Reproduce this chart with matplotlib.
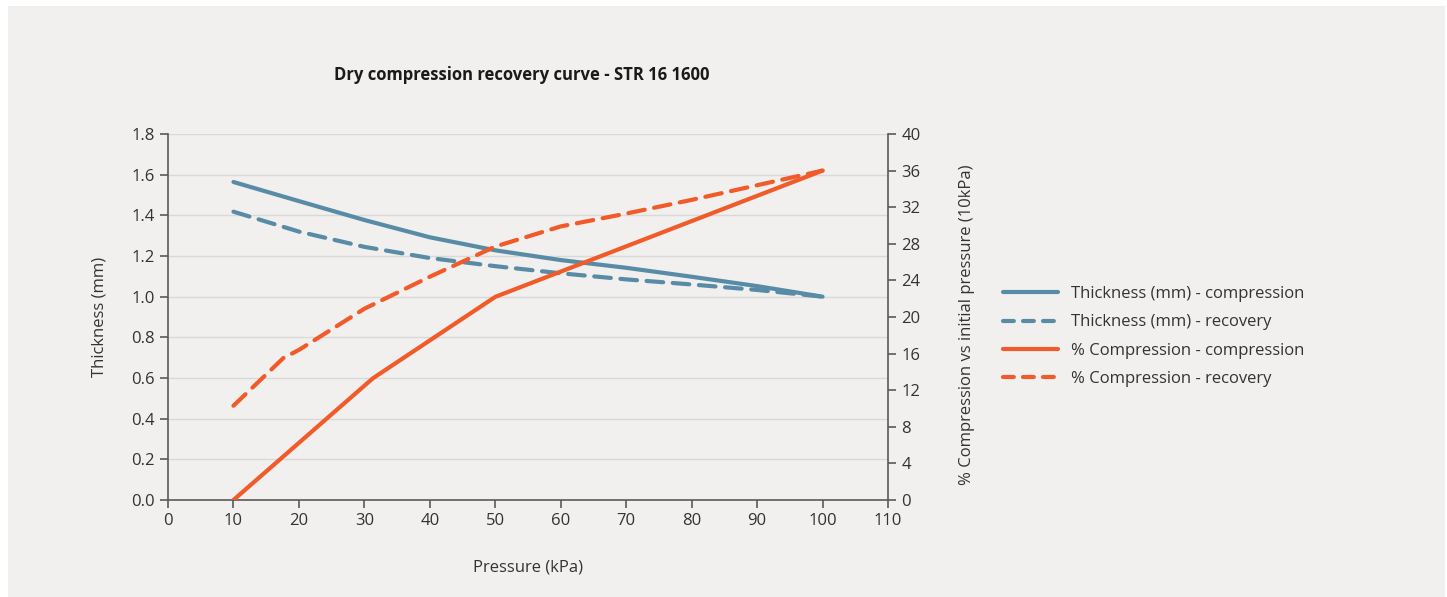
import matplotlib
matplotlib.use("Agg")
import matplotlib.pyplot as plt
from matplotlib.lines import Line2D

plt.rcParams['font.family'] = ['Open Sans', 'DejaVu Sans']

# pressure (kPa) and readings
p_thick = [10, 20, 30, 40, 50, 60, 70, 80, 90, 100]
thick_comp = [1.564, 1.47, 1.377, 1.292, 1.228, 1.18, 1.142, 1.098, 1.052, 1.0]
thick_rec = [1.418, 1.32, 1.245, 1.19, 1.15, 1.115, 1.085, 1.06, 1.033, 1.0]

p_pc_comp = [10, 31.3, 50, 100]
pc_comp = [0.0, 13.3, 22.2, 36.0]
p_pc_rec = [10, 17.6, 20, 30, 40, 50, 60, 70, 80, 90, 100]
pc_rec = [10.3, 15.5, 16.4, 20.9, 24.4, 27.7, 29.9, 31.3, 32.8, 34.4, 36.0]

labels = ["Thickness (mm) - compression", "Thickness (mm) - recovery",
          "% Compression - compression", "% Compression - recovery"]

blue = "#588ca6"
orange = "#f15a29"
bg = "#f1f0ee"
axis_col = "#595959"
txt = "#333333"
fs = 12

fig = plt.figure(figsize=(14.47, 5.97), dpi=100)
fig.patch.set_facecolor("white")
panel = plt.Rectangle((8 / 1447, 0), 1437 / 1447, 591 / 597, transform=fig.transFigure,
                      facecolor=bg, edgecolor="none", zorder=-10)
fig.patches.append(panel)

ax = fig.add_axes([168 / 1447, 1 - 500 / 597, 720 / 1447, 366 / 597])
ax2 = ax.twinx()
for a in (ax, ax2):
    a.set_facecolor("none")
ax.set_zorder(1)
ax2.set_zorder(2)

lw = 3
dash = (4, 2.3)
ax.plot(p_thick, thick_comp, color=blue, lw=lw, solid_capstyle="round")
ax.plot(p_thick, thick_rec, color=blue, lw=lw, dashes=dash, dash_capstyle="round")
ax2.plot(p_pc_comp, pc_comp, color=orange, lw=lw, solid_capstyle="round")
ax2.plot(p_pc_rec, pc_rec, color=orange, lw=lw, dashes=dash, dash_capstyle="round")

ax.set_xlim(0, 110)
ax.set_ylim(0, 1.8)
ax2.set_ylim(0, 40)
ax.set_xticks(range(0, 111, 10))
ax.set_yticks([i * 0.2 for i in range(10)])
ax.set_yticklabels([f"{i * 0.2:.1f}" for i in range(10)])
ax2.set_yticks(range(0, 41, 4))

ax.grid(axis="y", color="#d9d9d9", lw=1)
ax.set_axisbelow(True)

for a in (ax, ax2):
    for s in a.spines.values():
        s.set_visible(False)
    a.tick_params(colors=axis_col, labelcolor=txt, labelsize=fs, length=6, width=1.2)
ax.spines["left"].set_visible(True)
ax.spines["bottom"].set_visible(True)
ax2.spines["right"].set_visible(True)
for s in (ax.spines["left"], ax.spines["bottom"], ax2.spines["right"]):
    s.set_color(axis_col)
    s.set_linewidth(1.2)

ax.set_xlabel("Pressure (kPa)", fontsize=fs, color=txt, labelpad=22)
ax.set_ylabel("Thickness (mm)", fontsize=fs, color=txt, labelpad=17)
ax2.set_ylabel("% Compression vs initial pressure (10kPa)", fontsize=fs, color=txt, labelpad=28)
ax2.yaxis.label.set_y(0.478)

fig.text(522 / 1447, 1 - 75 / 597, "Dry compression recovery curve - STR 16 1600",
         ha="center", va="center", fontsize=fs, fontweight="bold", color="#1a1a1a")

leg_dash = (2.6, 2.2)
handles = [
    Line2D([], [], color=blue, lw=lw, solid_capstyle="round"),
    Line2D([], [], color=blue, lw=lw, dashes=leg_dash, dash_capstyle="round"),
    Line2D([], [], color=orange, lw=lw, solid_capstyle="round"),
    Line2D([], [], color=orange, lw=lw, dashes=leg_dash, dash_capstyle="round"),
]
fig.legend(handles, labels, loc="upper left", bbox_to_anchor=(988 / 1447, 1 - 271 / 597),
           frameon=False, fontsize=fs, handlelength=3.3, handletextpad=0.8,
           labelspacing=0.74, labelcolor=txt)

fig.savefig("out.png", dpi=100, facecolor=fig.get_facecolor())
